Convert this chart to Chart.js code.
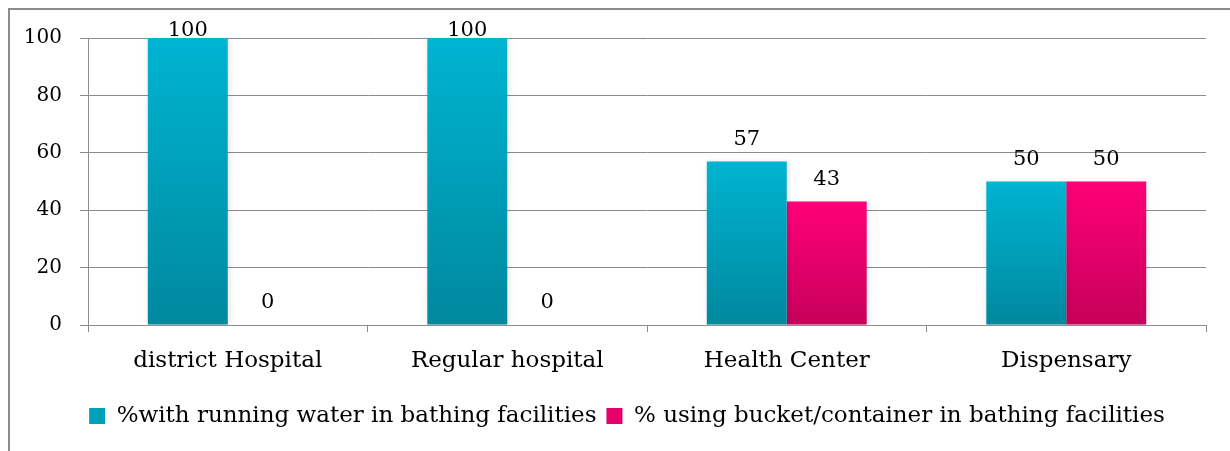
<!DOCTYPE html>
<html>
<head>
<meta charset="utf-8">
<script src="https://cdn.jsdelivr.net/npm/chart.js@4.4.1/dist/chart.umd.min.js"></script>
<style>
  html, body { margin: 0; padding: 0; background: #fff; overflow: hidden; }
  #frame { position: absolute; left: 8px; top: 8px; width: 1230px; height: 451px;
           border-top: 2px solid #8c8c8c; border-left: 2px solid #8c8c8c; }
  #wrap { position: absolute; left: 0; top: 0; width: 1230px; height: 451px; }
</style>
</head>
<body>
<div id="frame"></div>
<div id="wrap"><canvas id="bathChart" width="1230" height="451"></canvas></div>
<script>
// chart data
const categories = ['district Hospital', 'Regular hospital', 'Health Center', 'Dispensary'];
const runningWater = [100, 100, 57, 50];
const bucketContainer = [0, 0, 43, 50];
const seriesNames = [
  '%with running water in bathing facilities',
  '% using bucket/container in bathing facilities'
];
const yMin = 0;
const yMax = 100;
const yStep = 20;

const FONT = '"DejaVu Serif", serif';

// vertical gradient per bar, bright on top, darker at the base
function barGradient(top, bottom, solid) {
  return function(context) {
    const chart = context.chart;
    if (!chart.chartArea || context.type !== 'data') return solid;
    const y = chart.scales.y;
    const yTop = y.getPixelForValue(context.raw);
    const yBase = y.getPixelForValue(0);
    if (Math.abs(yBase - yTop) < 1) return solid;
    const g = chart.ctx.createLinearGradient(0, yTop, 0, yBase);
    g.addColorStop(0, top);
    g.addColorStop(1, bottom);
    return g;
  };
}

const barShadow = {
  id: 'barShadow',
  beforeDatasetDraw(chart) {
    const ctx = chart.ctx;
    ctx.save();
    ctx.shadowColor = 'rgba(0,0,0,0.13)';
    ctx.shadowBlur = 6;
    ctx.shadowOffsetX = 1;
    ctx.shadowOffsetY = 1;
  },
  afterDatasetDraw(chart) {
    chart.ctx.restore();
  }
};

const barLabels = {
  id: 'barLabels',
  afterDatasetsDraw(chart) {
    const {ctx, chartArea} = chart;
    ctx.save();
    ctx.font = '21px ' + FONT;
    ctx.fillStyle = '#000';
    ctx.textAlign = 'center';
    ctx.textBaseline = 'middle';
    chart.data.datasets.forEach((ds, i) => {
      chart.getDatasetMeta(i).data.forEach((bar, j) => {
        const y = Math.max(bar.y - 22, chartArea.top - 7);
        ctx.fillText(ds.data[j], bar.x, y);
      });
    });
    ctx.restore();
  }
};

// the legend sits a little right of centre in the original
const legendShift = {
  id: 'legendShift',
  afterLayout(chart) {
    chart.legend.left += 24;
    chart.legend.right += 24;
  }
};

const ctx = document.getElementById('bathChart').getContext('2d');
new Chart(ctx, {
  type: 'bar',
  data: {
    labels: categories,
    datasets: [{
      label: seriesNames[0],
      data: runningWater,
      backgroundColor: barGradient('#00b4d2', '#00889e', '#00a0bb'),
      barPercentage: 1,
      categoryPercentage: 0.572
    }, {
      label: seriesNames[1],
      data: bucketContainer,
      backgroundColor: barGradient('#ff0078', '#c6005a', '#e8006a'),
      barPercentage: 1,
      categoryPercentage: 0.572
    }]
  },
  options: {
    responsive: false,
    animation: false,
    layout: { padding: { left: 0, right: 24, top: 38, bottom: 13.5 } },
    scales: {
      x: {
        afterFit: s => { s.height = 69.5; },
        grid: { offset: true, drawOnChartArea: false, tickLength: 7, color: '#8c8c8c' },
        border: { color: '#8c8c8c' },
        ticks: { padding: 15, color: '#000', font: { family: FONT, size: 23 } }
      },
      y: {
        min: yMin,
        max: yMax,
        afterFit: s => { s.width = 88; },
        grid: { color: '#8c8c8c', tickLength: 8 },
        border: { color: '#8c8c8c' },
        ticks: { stepSize: yStep, padding: 18, color: '#000', font: { family: FONT, size: 20 } }
      }
    },
    plugins: {
      legend: {
        position: 'bottom',
        labels: {
          boxWidth: 16,
          boxHeight: 16,
          padding: 10,
          color: '#000',
          font: { family: FONT, size: 23 },
          generateLabels: chart => chart.data.datasets.map((ds, i) => ({
            text: ds.label,
            fillStyle: i === 0 ? '#00a0bb' : '#e8006a',
            strokeStyle: 'transparent',
            lineWidth: 0,
            datasetIndex: i
          }))
        }
      },
      tooltip: { enabled: false }
    }
  },
  plugins: [barShadow, barLabels, legendShift]
});
</script>
</body>
</html>
